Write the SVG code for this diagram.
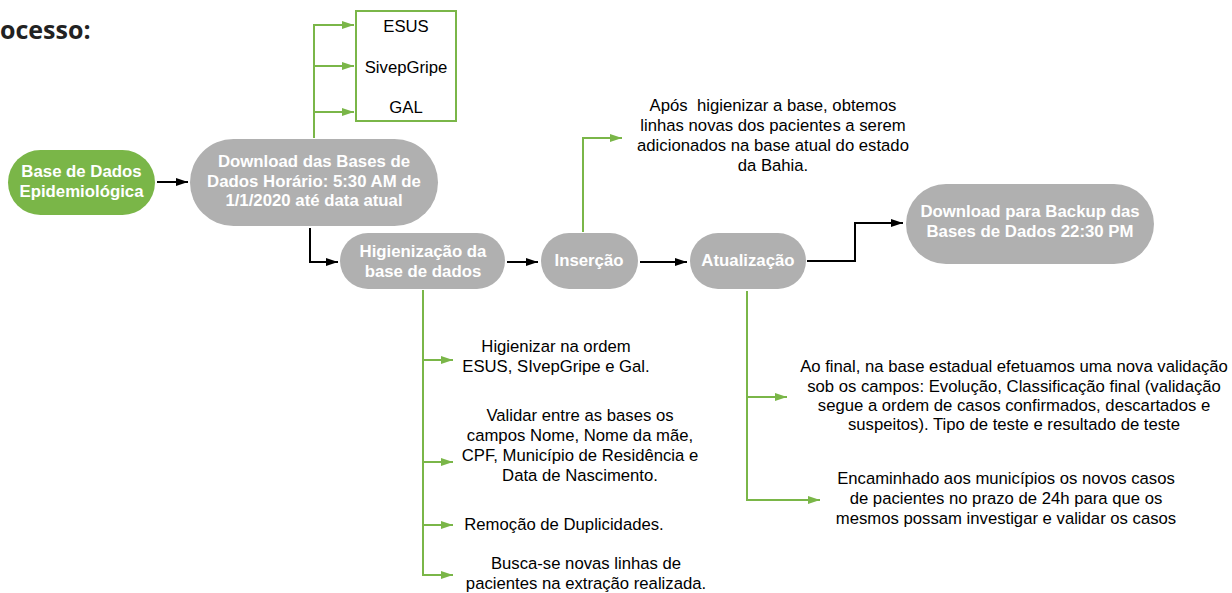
<svg xmlns="http://www.w3.org/2000/svg" width="1232" height="593" viewBox="0 0 1232 593">
<style>
.node-g{fill:#7ab648}
.node-gray{fill:#b0b0b0}
.nt{font-family:"Liberation Sans",Arial,sans-serif;font-weight:bold;font-size:16.8px;fill:#ffffff;text-anchor:middle}
.t{font-family:"Liberation Sans",Arial,sans-serif;font-size:16.7px;fill:#000000;text-anchor:middle}
.blk{fill:none;stroke:#000000;stroke-width:2}
.grn{fill:none;stroke:#7ab648;stroke-width:2}
</style>
<defs>
<marker id="ab" markerWidth="12" markerHeight="8" refX="12" refY="4" orient="auto" markerUnits="userSpaceOnUse"><path d="M0,0 L12,4 L0,8 Z" fill="#000000"/></marker>
<marker id="ag" markerWidth="12" markerHeight="8" refX="12" refY="4" orient="auto" markerUnits="userSpaceOnUse"><path d="M0,0 L12,4 L0,8 Z" fill="#7ab648"/></marker>
</defs>
<rect width="1232" height="593" fill="#ffffff"/>
<text x="0" y="39" font-family="'Open Sans',sans-serif" font-weight="bold" font-size="25" fill="#222222">ocesso:</text>

<g id="connectors">
<path class="blk" d="M157,182 H188" marker-end="url(#ab)"/>
<path class="blk" d="M310,228 V262 H338" marker-end="url(#ab)"/>
<path class="blk" d="M507,262 H538" marker-end="url(#ab)"/>
<path class="blk" d="M640,262 H687" marker-end="url(#ab)"/>
<path class="blk" d="M807,261 H855 V223 H903" marker-end="url(#ab)"/>
<path class="grn" d="M314,138 V25 H354" marker-end="url(#ag)"/>
<path class="grn" d="M314,66 H354" marker-end="url(#ag)"/>
<path class="grn" d="M314,112 H354" marker-end="url(#ag)"/>
<path class="grn" d="M583,232 V138 H622" marker-end="url(#ag)"/>
<path class="grn" d="M423,290 V575 H453" marker-end="url(#ag)"/>
<path class="grn" d="M423,360 H453" marker-end="url(#ag)"/>
<path class="grn" d="M423,462 H453" marker-end="url(#ag)"/>
<path class="grn" d="M423,525 H453" marker-end="url(#ag)"/>
<path class="grn" d="M747,291 V500 H820" marker-end="url(#ag)"/>
<path class="grn" d="M747,397 H787" marker-end="url(#ag)"/>
</g>

<g id="base-dados">
<rect class="node-g" x="8" y="150" width="147" height="65" rx="32.5"/>
<text class="nt" x="81.5" y="177">Base de Dados</text>
<text class="nt" x="81.5" y="197">Epidemiológica</text>
</g>

<g id="download">
<rect class="node-gray" x="190" y="139" width="248" height="87" rx="43.5"/>
<text class="nt" x="314" y="167">Download das Bases de</text>
<text class="nt" x="314" y="187">Dados Horário: 5:30 AM de</text>
<text class="nt" x="314" y="206">1/1/2020 até data atual</text>
</g>

<g id="fontes">
<rect x="356" y="11" width="100" height="110" fill="#ffffff" stroke="#7ab648" stroke-width="2"/>
<text class="t" x="406" y="32">ESUS</text>
<text class="t" x="406" y="73">SivepGripe</text>
<text class="t" x="406" y="113">GAL</text>
</g>

<g id="higienizacao">
<rect class="node-gray" x="340" y="233" width="165" height="56" rx="28"/>
<text class="nt" x="423" y="257">Higienização da</text>
<text class="nt" x="423" y="277">base de dados</text>
</g>

<g id="insercao">
<rect class="node-gray" x="541" y="233" width="97" height="56" rx="28"/>
<text class="nt" x="589" y="266">Inserção</text>
</g>

<g id="atualizacao">
<rect class="node-gray" x="690" y="233" width="116" height="56" rx="28"/>
<text class="nt" x="748" y="266">Atualização</text>
</g>

<g id="backup">
<rect class="node-gray" x="906" y="184" width="248" height="80" rx="40"/>
<text class="nt" x="1030" y="217">Download para Backup das</text>
<text class="nt" x="1030" y="237">Bases de Dados 22:30 PM</text>
</g>

<g id="nota-insercao">
<text class="t" x="773" y="111" xml:space="preserve">Após  higienizar a base, obtemos</text>
<text class="t" x="773" y="131">linhas novas dos pacientes a serem</text>
<text class="t" x="773" y="151">adicionados na base atual do estado</text>
<text class="t" x="773" y="171">da Bahia.</text>
</g>

<g id="nota-hig-1">
<text class="t" x="556" y="352">Higienizar na ordem</text>
<text class="t" x="556" y="372">ESUS, SIvepGripe e Gal.</text>
</g>
<g id="nota-hig-2">
<text class="t" x="580" y="421">Validar entre as bases os</text>
<text class="t" x="580" y="441">campos Nome, Nome da mãe,</text>
<text class="t" x="580" y="461">CPF, Município de Residência e</text>
<text class="t" x="580" y="481">Data de Nascimento.</text>
</g>
<g id="nota-hig-3">
<text class="t" x="564" y="530">Remoção de Duplicidades.</text>
</g>
<g id="nota-hig-4">
<text class="t" x="586" y="569">Busca-se novas linhas de</text>
<text class="t" x="586" y="589">pacientes na extração realizada.</text>
</g>

<g id="nota-atual-1">
<text class="t" x="1014" y="372">Ao final, na base estadual efetuamos uma nova validação</text>
<text class="t" x="1014" y="392">sob os campos: Evolução, Classificação final (validação</text>
<text class="t" x="1014" y="411">segue a ordem de casos confirmados, descartados e</text>
<text class="t" x="1014" y="430">suspeitos). Tipo de teste e resultado de teste</text>
</g>
<g id="nota-atual-2">
<text class="t" x="1006" y="484">Encaminhado aos municípios os novos casos</text>
<text class="t" x="1006" y="504">de pacientes no prazo de 24h para que os</text>
<text class="t" x="1006" y="524">mesmos possam investigar e validar os casos</text>
</g>
</svg>
